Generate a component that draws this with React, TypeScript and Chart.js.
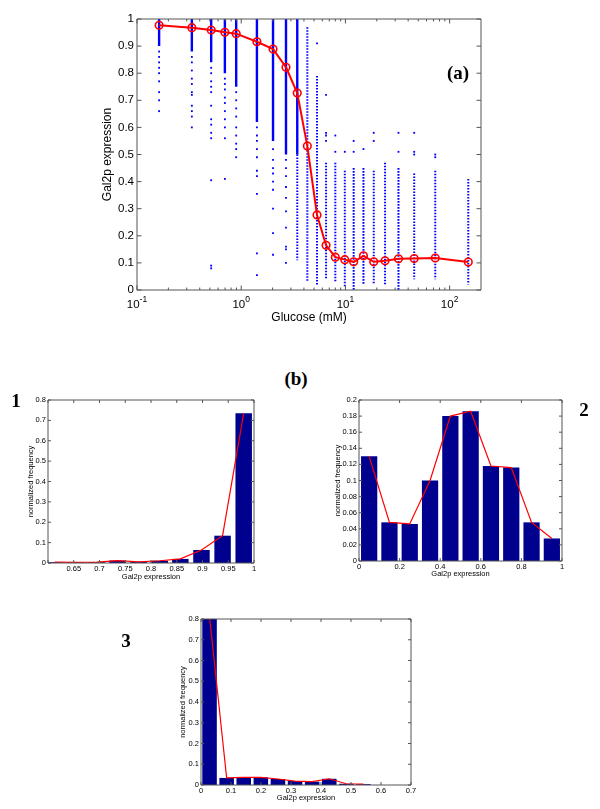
import React, { useEffect, useRef } from 'react';
import { Chart, registerables } from 'chart.js';

Chart.register(...registerables);

const SANS = '"Liberation Sans", Arial, Helvetica, sans-serif';
const SERIF = '"Liberation Serif", "Times New Roman", serif';

// ---------------- Panel (a) ----------------
const glucose = [0.163, 0.336, 0.515, 0.697, 0.895, 1.415, 2.02, 2.69, 3.45, 4.31, 5.34, 6.52, 8.0, 9.87, 12.0, 14.9, 18.7, 24.0, 32.3, 45.7, 72.8, 151];
const meanExpression = [0.977, 0.968, 0.959, 0.951, 0.946, 0.916, 0.889, 0.822, 0.727, 0.531, 0.277, 0.165, 0.121, 0.112, 0.104, 0.126, 0.104, 0.108, 0.115, 0.116, 0.118, 0.103];

// densely packed single-cell values (look like solid columns)
const denseGlucose = [0.163, 0.336, 0.515, 0.697, 0.895, 1.415, 2.02, 2.69, 3.45];
const denseTop = [1, 1, 1, 1, 1, 1, 1, 1, 1];
const denseBottom = [0.9, 0.88, 0.84, 0.8, 0.75, 0.62, 0.55, 0.5, 0.5];

// dotted columns of single-cell values
const dottedGlucose = [3.45, 4.31, 5.34, 6.52, 8.0, 9.87, 12.0, 14.9, 18.7, 24.0, 32.3, 45.7, 72.8, 151];
const dottedTop = [0.5, 0.97, 0.79, 0.47, 0.47, 0.44, 0.45, 0.45, 0.44, 0.47, 0.45, 0.43, 0.44, 0.41];
const dottedBottom = [0.11, 0.03, 0.02, 0.04, 0.03, 0.01, 0.0, 0.02, 0.02, 0.02, 0.0, 0.04, 0.04, 0.02];

// isolated single-cell values, one list per glucose level
const sparseExpression = [
  [0.88, 0.86, 0.84, 0.82, 0.8, 0.77, 0.73, 0.7, 0.66],
  [0.86, 0.84, 0.81, 0.78, 0.76, 0.73, 0.72, 0.68, 0.66, 0.64, 0.6],
  [0.82, 0.8, 0.77, 0.75, 0.73, 0.68, 0.63, 0.61, 0.58, 0.56, 0.405, 0.09, 0.08],
  [0.78, 0.76, 0.74, 0.71, 0.69, 0.66, 0.63, 0.6, 0.56, 0.41],
  [0.73, 0.7, 0.67, 0.64, 0.6, 0.57, 0.54, 0.52, 0.49],
  [0.6, 0.57, 0.55, 0.52, 0.49, 0.44, 0.42, 0.355, 0.135, 0.055],
  [0.52, 0.48, 0.45, 0.43, 0.4, 0.37, 0.3, 0.21, 0.13],
  [0.48, 0.45, 0.42, 0.38, 0.34, 0.29, 0.23, 0.16, 0.15, 0.1],
  [],
  [],
  [0.91],
  [0.72, 0.58, 0.57, 0.55],
  [0.57, 0.51],
  [0.51],
  [0.55, 0.51],
  [0.52],
  [0.58, 0.55],
  [],
  [0.58, 0.51],
  [0.58, 0.51, 0.5],
  [0.5, 0.49],
  [],
];

const logTickValues = [0.1, 1, 10, 100];
const logTickExponents = ['-1', '0', '1', '2'];
const logMinorTicks = [0.2, 0.3, 0.4, 0.5, 0.6, 0.7, 0.8, 0.9, 2, 3, 4, 5, 6, 7, 8, 9, 20, 30, 40, 50, 60, 70, 80, 90];
const expressionTicks = [0, 0.1, 0.2, 0.3, 0.4, 0.5, 0.6, 0.7, 0.8, 0.9, 1];
const expressionTickLabels = ['0', '0.1', '0.2', '0.3', '0.4', '0.5', '0.6', '0.7', '0.8', '0.9', '1'];

// ---------------- Histogram 1 ----------------
const hist1Centers = [0.613, 0.654, 0.695, 0.735, 0.776, 0.817, 0.857, 0.898, 0.939, 0.98];
const hist1Freq = [0.004, 0.003, 0.004, 0.012, 0.006, 0.011, 0.02, 0.064, 0.134, 0.735];
const hist1XTicks = [0.6, 0.65, 0.7, 0.75, 0.8, 0.85, 0.9, 0.95, 1];
const hist1XLabels = ['', '0.65', '0.7', '0.75', '0.8', '0.85', '0.9', '0.95', '1'];
const hist1YTicks = [0, 0.1, 0.2, 0.3, 0.4, 0.5, 0.6, 0.7, 0.8];
const hist1YLabels = ['0', '0.1', '0.2', '0.3', '0.4', '0.5', '0.6', '0.7', '0.8'];

// ---------------- Histogram 2 ----------------
const hist2Centers = [0.05, 0.15, 0.25, 0.35, 0.45, 0.55, 0.65, 0.75, 0.85, 0.95];
const hist2Freq = [0.13, 0.048, 0.046, 0.1, 0.18, 0.186, 0.118, 0.116, 0.048, 0.028];
const hist2XTicks = [0, 0.2, 0.4, 0.6, 0.8, 1];
const hist2XLabels = ['0', '0.2', '0.4', '0.6', '0.8', '1'];
const hist2YTicks = [0, 0.02, 0.04, 0.06, 0.08, 0.1, 0.12, 0.14, 0.16, 0.18, 0.2];
const hist2YLabels = ['0', '0.02', '0.04', '0.06', '0.08', '0.1', '0.12', '0.14', '0.16', '0.18', '0.2'];

// ---------------- Histogram 3 ----------------
const hist3Centers = [0.0285, 0.0855, 0.1425, 0.1995, 0.2565, 0.3135, 0.3705, 0.4275, 0.4845, 0.5415];
const hist3Freq = [0.81, 0.034, 0.037, 0.037, 0.029, 0.019, 0.016, 0.03, 0.006, 0.004];
const hist3XTicks = [0, 0.1, 0.2, 0.3, 0.4, 0.5, 0.6, 0.7];
const hist3XLabels = ['0', '0.1', '0.2', '0.3', '0.4', '0.5', '0.6', '0.7'];
const hist3YTicks = [0, 0.1, 0.2, 0.3, 0.4, 0.5, 0.6, 0.7, 0.8];
const hist3YLabels = ['0', '0.1', '0.2', '0.3', '0.4', '0.5', '0.6', '0.7', '0.8'];

const AXIS_COLOR = '#555555';
const BAR_COLOR = '#00008F';
const RED = '#FF0000';
const BLUE = '#0000FF';

// MATLAB-style box with inward ticks (+ optional 10^n labels)
const matlabAxes = {
  id: 'matlabAxes',
  afterDatasetsDraw(chart: any, _args: any, opts: any) {
    const { ctx, chartArea: a } = chart;
    const xs = chart.scales.x;
    const ys = chart.scales.y;
    const len = opts.len || 3;
    ctx.save();
    ctx.strokeStyle = AXIS_COLOR;
    ctx.lineWidth = 1;
    ctx.beginPath();
    ctx.rect(a.left, a.top, a.right - a.left, a.bottom - a.top);
    const vTick = (px: number, l: number) => {
      ctx.moveTo(px, a.bottom);
      ctx.lineTo(px, a.bottom - l);
      ctx.moveTo(px, a.top);
      ctx.lineTo(px, a.top + l);
    };
    const hTick = (py: number, l: number) => {
      ctx.moveTo(a.left, py);
      ctx.lineTo(a.left + l, py);
      ctx.moveTo(a.right, py);
      ctx.lineTo(a.right - l, py);
    };
    xs.ticks.forEach((t: any) => vTick(xs.getPixelForValue(t.value), len));
    (opts.minorX || []).forEach((v: number) => vTick(xs.getPixelForValue(v), len * 0.55));
    ys.ticks.forEach((t: any) => hTick(ys.getPixelForValue(t.value), len));
    ctx.stroke();

    if (opts.logLabels) {
      ctx.fillStyle = '#000';
      ctx.textBaseline = 'alphabetic';
      ctx.textAlign = 'left';
      opts.logLabels.values.forEach((v: number, i: number) => {
        const px = xs.getPixelForValue(v);
        const exp = opts.logLabels.exponents[i];
        ctx.font = `11.5px ${SANS}`;
        const wBase = ctx.measureText('10').width;
        ctx.font = `8.5px ${SANS}`;
        const wExp = ctx.measureText(exp).width;
        const start = px - (wBase + wExp) / 2;
        ctx.font = `11.5px ${SANS}`;
        ctx.fillText('10', start, a.bottom + 18);
        ctx.font = `8.5px ${SANS}`;
        ctx.fillText(exp, start + wBase, a.bottom + 11.5);
      });
    }
    ctx.restore();
  },
};

function fixedTicks(values: number[]) {
  return (scale: any) => {
    scale.ticks = values.map((v) => ({ value: v }));
  };
}

function makeTopConfig(): any {
  const meanData = glucose.map((g, i) => ({ x: g, y: meanExpression[i] }));
  const denseData: any[] = [];
  denseGlucose.forEach((g, i) => {
    denseData.push({ x: g, y: denseTop[i] }, { x: g, y: denseBottom[i] }, { x: g, y: null });
  });
  const dottedData: any[] = [];
  dottedGlucose.forEach((g, i) => {
    dottedData.push({ x: g, y: dottedTop[i] }, { x: g, y: dottedBottom[i] }, { x: g, y: null });
  });
  const sparseData: any[] = [];
  sparseExpression.forEach((list, i) => {
    list.forEach((v) => sparseData.push({ x: glucose[i], y: v }));
  });

  return {
    type: 'scatter',
    data: {
      datasets: [
        {
          label: 'mean',
          data: meanData,
          showLine: true,
          borderColor: RED,
          borderWidth: 2,
          pointRadius: 3.8,
          pointBorderWidth: 1.6,
          pointBorderColor: RED,
          pointBackgroundColor: 'rgba(0,0,0,0)',
          order: 0,
        },
        {
          label: 'cells sparse',
          data: sparseData,
          showLine: false,
          pointStyle: 'rect',
          pointRadius: 1.3,
          pointBorderWidth: 0,
          pointBackgroundColor: BLUE,
          order: 1,
        },
        {
          label: 'cells dense',
          data: denseData,
          showLine: true,
          spanGaps: false,
          borderColor: BLUE,
          borderWidth: 2.4,
          pointRadius: 0,
          order: 2,
        },
        {
          label: 'cells dotted',
          data: dottedData,
          showLine: true,
          spanGaps: false,
          borderColor: BLUE,
          borderWidth: 2,
          borderDash: [1.6, 1.4],
          pointRadius: 0,
          order: 2,
        },
      ],
    },
    options: {
      animation: false,
      responsive: false,
      devicePixelRatio: 1,
      events: [],
      layout: { padding: { left: 100, top: 19, right: 19, bottom: 5 } },
      plugins: {
        legend: { display: false },
        tooltip: { enabled: false },
        matlabAxes: {
          len: 4.5,
          minorX: logMinorTicks,
          logLabels: { values: logTickValues, exponents: logTickExponents },
        },
      },
      scales: {
        x: {
          type: 'logarithmic',
          min: 0.1,
          max: 200,
          afterBuildTicks: fixedTicks(logTickValues),
          afterFit: (s: any) => {
            s.height = 35;
          },
          grid: { display: false, drawTicks: false },
          border: { display: false },
          ticks: { display: false },
          title: {
            display: true,
            text: 'Glucose (mM)',
            color: '#000',
            font: { family: SANS, size: 12 },
            padding: 0,
          },
        },
        y: {
          type: 'linear',
          min: 0,
          max: 1,
          afterBuildTicks: fixedTicks(expressionTicks),
          afterFit: (s: any) => {
            s.width = 37;
          },
          grid: { display: false, drawTicks: false },
          border: { display: false },
          ticks: {
            color: '#000',
            padding: 3,
            font: { family: SANS, size: 11.5 },
            callback: (_v: any, i: number) => expressionTickLabels[i],
          },
          title: {
            display: true,
            text: 'Gal2p expression',
            color: '#000',
            font: { family: SANS, size: 12 },
            padding: 0,
          },
        },
      },
    },
    plugins: [matlabAxes],
  };
}

function makeHistConfig(p: {
  centers: number[];
  freq: number[];
  xMin: number;
  xMax: number;
  xTicks: number[];
  xLabels: string[];
  yMax: number;
  yTicks: number[];
  yLabels: string[];
  padding: any;
  yWidth: number;
  xHeight: number;
  catPct: number;
}): any {
  const pts = p.centers.map((c, i) => ({ x: c, y: p.freq[i] }));
  const titleFont = { family: SANS, size: 7.5 };
  return {
    type: 'bar',
    data: {
      datasets: [
        {
          type: 'line',
          data: pts,
          borderColor: RED,
          borderWidth: 1.2,
          pointRadius: 0,
          fill: false,
          order: 0,
        },
        {
          type: 'bar',
          data: pts,
          backgroundColor: BAR_COLOR,
          borderWidth: 0,
          barPercentage: 1,
          categoryPercentage: p.catPct,
          order: 1,
        },
      ],
    },
    options: {
      animation: false,
      responsive: false,
      devicePixelRatio: 1,
      events: [],
      layout: { padding: p.padding },
      plugins: {
        legend: { display: false },
        tooltip: { enabled: false },
        matlabAxes: { len: 3 },
      },
      scales: {
        x: {
          type: 'linear',
          offset: false,
          min: p.xMin,
          max: p.xMax,
          afterBuildTicks: fixedTicks(p.xTicks),
          afterFit: (s: any) => {
            s.height = p.xHeight;
          },
          grid: { display: false, drawTicks: false, offset: false },
          border: { display: false },
          ticks: {
            color: '#000',
            padding: 1.5,
            autoSkip: false,
            maxRotation: 0,
            font: titleFont,
            callback: (_v: any, i: number) => p.xLabels[i],
          },
          title: {
            display: true,
            text: 'Gal2p expression',
            color: '#000',
            font: titleFont,
            padding: 0,
          },
        },
        y: {
          type: 'linear',
          min: 0,
          max: p.yMax,
          afterBuildTicks: fixedTicks(p.yTicks),
          afterFit: (s: any) => {
            s.width = p.yWidth;
          },
          grid: { display: false, drawTicks: false },
          border: { display: false },
          ticks: {
            color: '#000',
            padding: 2,
            autoSkip: false,
            font: titleFont,
            callback: (_v: any, i: number) => p.yLabels[i],
          },
          title: {
            display: true,
            text: 'normalized frequency',
            color: '#000',
            font: titleFont,
            padding: 0,
          },
        },
      },
    },
    plugins: [matlabAxes],
  };
}

function ChartCanvas(props: { left: number; top: number; width: number; height: number; make: () => any }) {
  const ref = useRef<HTMLCanvasElement>(null);
  useEffect(() => {
    const chart = new Chart(ref.current as HTMLCanvasElement, props.make());
    return () => chart.destroy();
  }, []);
  return (
    <canvas
      ref={ref}
      width={props.width}
      height={props.height}
      style={{ position: 'absolute', left: props.left, top: props.top, width: props.width, height: props.height }}
    />
  );
}

function Label(props: { x: number; y: number; text: string }) {
  return (
    <div
      style={{
        position: 'absolute',
        left: props.x,
        top: props.y,
        transform: 'translate(-50%, -50%)',
        fontFamily: SERIF,
        fontWeight: 'bold',
        fontSize: 19,
        lineHeight: 1,
        color: '#000',
        whiteSpace: 'nowrap',
      }}
    >
      {props.text}
    </div>
  );
}

export default function App() {
  return (
    <div style={{ position: 'absolute', left: 0, top: 0, width: 600, height: 809, background: '#fff', overflow: 'hidden' }}>
      <ChartCanvas left={0} top={0} width={500} height={330} make={makeTopConfig} />
      <ChartCanvas
        left={0}
        top={390}
        width={270}
        height={200}
        make={() =>
          makeHistConfig({
            centers: hist1Centers,
            freq: hist1Freq,
            xMin: 0.6,
            xMax: 1,
            xTicks: hist1XTicks,
            xLabels: hist1XLabels,
            yMax: 0.8,
            yTicks: hist1YTicks,
            yLabels: hist1YLabels,
            padding: { left: 26.5, top: 10, right: 16, bottom: 8.5 },
            yWidth: 21.5,
            xHeight: 18.5,
            catPct: 0.8,
          })
        }
      />
      <ChartCanvas
        left={300}
        top={390}
        width={290}
        height={200}
        make={() =>
          makeHistConfig({
            centers: hist2Centers,
            freq: hist2Freq,
            xMin: 0,
            xMax: 1,
            xTicks: hist2XTicks,
            xLabels: hist2XLabels,
            yMax: 0.2,
            yTicks: hist2YTicks,
            yLabels: hist2YLabels,
            padding: { left: 33.5, top: 10, right: 28, bottom: 11.5 },
            yWidth: 25.5,
            xHeight: 17.5,
            catPct: 0.8,
          })
        }
      />
      <ChartCanvas
        left={130}
        top={609}
        width={300}
        height={200}
        make={() =>
          makeHistConfig({
            centers: hist3Centers,
            freq: hist3Freq,
            xMin: 0,
            xMax: 0.7,
            xTicks: hist3XTicks,
            xLabels: hist3XLabels,
            yMax: 0.8,
            yTicks: hist3YTicks,
            yLabels: hist3YLabels,
            padding: { left: 48.5, top: 10, right: 19, bottom: 6.5 },
            yWidth: 22.5,
            xHeight: 17.5,
            catPct: 0.85,
          })
        }
      />
      <Label x={458} y={72} text="(a)" />
      <Label x={296} y={378} text="(b)" />
      <Label x={16} y={400} text="1" />
      <Label x={584} y={409} text="2" />
      <Label x={126} y={640} text="3" />
    </div>
  );
}
